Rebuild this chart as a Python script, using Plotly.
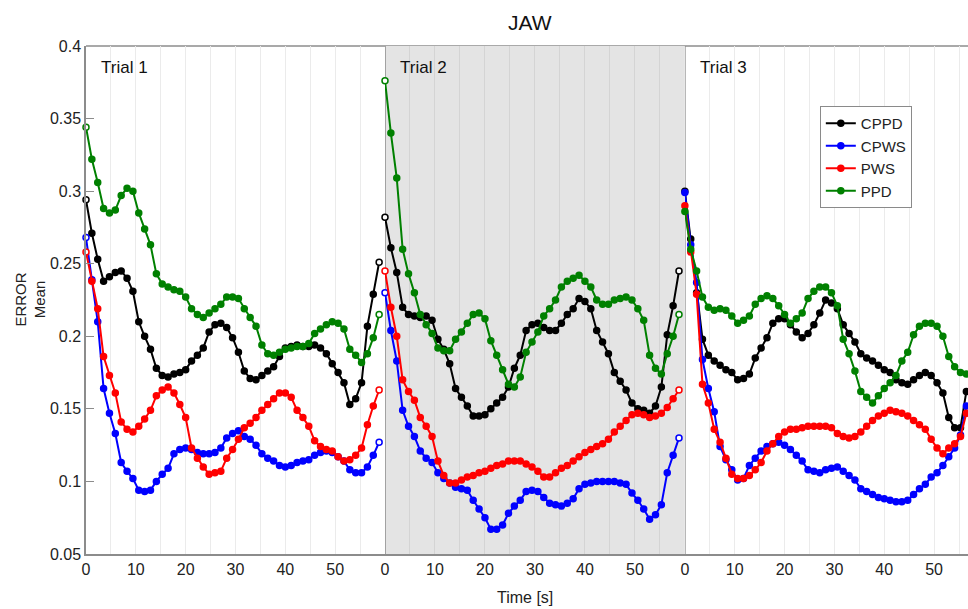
import plotly.graph_objects as go

# Sampling grid: 51 samples per trial, 60 s per trial
N_SAMPLES = 51
TRIAL_LEN = 60.0
time_s = [round(i * TRIAL_LEN / N_SAMPLES, 3) for i in range(N_SAMPLES)]

series_names = ["CPPD", "CPWS", "PWS", "PPD"]
series_colors = ["#000000", "#0000ff", "#ff0000", "#008000"]
trial_labels = ["Trial 1", "Trial 2", "Trial 3"]
x_ticks = [0, 10, 20, 30, 40, 50]
y_ticks = [0.05, 0.1, 0.15, 0.2, 0.25, 0.3, 0.35, 0.4]
y_ticktext = ["0.05", "0.1", "0.15", "0.2", "0.25", "0.3", "0.35", "0.4"]

# Trial 1
t1_cppd = [0.294, 0.271, 0.253, 0.238, 0.241, 0.244, 0.245, 0.240, 0.231, 0.210, 0.200, 0.191, 0.178,
           0.173, 0.172, 0.174, 0.175, 0.177, 0.183, 0.187, 0.192, 0.203, 0.208, 0.209, 0.206, 0.199,
           0.189, 0.176, 0.171, 0.170, 0.173, 0.176, 0.179, 0.186, 0.192, 0.193, 0.194, 0.193, 0.193,
           0.194, 0.192, 0.188, 0.181, 0.175, 0.168, 0.153, 0.157, 0.168, 0.207, 0.229, 0.251]
t1_cpws = [0.268, 0.239, 0.210, 0.164, 0.147, 0.133, 0.113, 0.107, 0.102, 0.094, 0.093, 0.094, 0.100,
           0.105, 0.109, 0.119, 0.122, 0.123, 0.122, 0.120, 0.119, 0.119, 0.120, 0.123, 0.130, 0.133,
           0.135, 0.131, 0.129, 0.125, 0.119, 0.116, 0.114, 0.111, 0.110, 0.111, 0.113, 0.114, 0.115,
           0.118, 0.120, 0.121, 0.120, 0.117, 0.114, 0.108, 0.106, 0.106, 0.110, 0.118, 0.127]
t1_pws = [0.258, 0.238, 0.219, 0.186, 0.173, 0.161, 0.141, 0.136, 0.134, 0.138, 0.143, 0.149, 0.159,
          0.163, 0.165, 0.161, 0.153, 0.144, 0.123, 0.116, 0.110, 0.105, 0.106, 0.107, 0.116, 0.122,
          0.129, 0.137, 0.140, 0.144, 0.149, 0.153, 0.157, 0.161, 0.161, 0.158, 0.149, 0.144, 0.138,
          0.128, 0.124, 0.122, 0.121, 0.117, 0.114, 0.115, 0.118, 0.123, 0.139, 0.152, 0.163]
t1_ppd = [0.344, 0.322, 0.306, 0.288, 0.285, 0.287, 0.297, 0.302, 0.300, 0.285, 0.274, 0.263, 0.243,
          0.236, 0.234, 0.232, 0.231, 0.227, 0.219, 0.215, 0.213, 0.216, 0.219, 0.222, 0.227, 0.227,
          0.226, 0.219, 0.213, 0.207, 0.194, 0.188, 0.187, 0.189, 0.191, 0.192, 0.193, 0.193, 0.195,
          0.202, 0.205, 0.208, 0.210, 0.209, 0.205, 0.191, 0.187, 0.182, 0.188, 0.199, 0.215]

# Trial 2
t2_cppd = [0.282, 0.261, 0.244, 0.220, 0.215, 0.214, 0.213, 0.214, 0.211, 0.198, 0.191, 0.181, 0.164,
           0.158, 0.152, 0.145, 0.145, 0.146, 0.150, 0.154, 0.158, 0.165, 0.178, 0.187, 0.204, 0.208,
           0.209, 0.206, 0.204, 0.204, 0.209, 0.215, 0.219, 0.226, 0.224, 0.219, 0.204, 0.196, 0.188,
           0.175, 0.169, 0.163, 0.154, 0.150, 0.149, 0.147, 0.152, 0.165, 0.201, 0.221, 0.245]
t2_cpws = [0.230, 0.204, 0.183, 0.149, 0.138, 0.131, 0.121, 0.116, 0.113, 0.106, 0.102, 0.099, 0.096,
           0.095, 0.094, 0.087, 0.081, 0.075, 0.067, 0.067, 0.070, 0.078, 0.083, 0.087, 0.093, 0.094,
           0.093, 0.089, 0.085, 0.084, 0.083, 0.085, 0.088, 0.095, 0.098, 0.099, 0.100, 0.100, 0.100,
           0.100, 0.099, 0.098, 0.092, 0.087, 0.081, 0.074, 0.077, 0.084, 0.106, 0.118, 0.130]
t2_pws = [0.245, 0.220, 0.200, 0.170, 0.162, 0.156, 0.144, 0.138, 0.131, 0.114, 0.104, 0.099, 0.099,
          0.101, 0.103, 0.104, 0.106, 0.107, 0.109, 0.111, 0.112, 0.114, 0.114, 0.114, 0.112, 0.110,
          0.107, 0.103, 0.103, 0.106, 0.109, 0.111, 0.114, 0.117, 0.120, 0.122, 0.124, 0.126, 0.129,
          0.134, 0.138, 0.142, 0.146, 0.147, 0.146, 0.144, 0.145, 0.147, 0.151, 0.157, 0.163]
t2_ppd = [0.376, 0.340, 0.309, 0.260, 0.243, 0.230, 0.215, 0.208, 0.202, 0.192, 0.190, 0.190, 0.198,
          0.203, 0.209, 0.215, 0.216, 0.212, 0.197, 0.187, 0.177, 0.167, 0.165, 0.172, 0.189, 0.196,
          0.203, 0.214, 0.219, 0.225, 0.234, 0.238, 0.240, 0.242, 0.238, 0.234, 0.225, 0.222, 0.222,
          0.225, 0.226, 0.227, 0.225, 0.219, 0.211, 0.187, 0.178, 0.174, 0.188, 0.200, 0.215]

# Trial 3
t3_cppd = [0.300, 0.267, 0.230, 0.198, 0.187, 0.183, 0.180, 0.177, 0.175, 0.170, 0.171, 0.174, 0.185,
           0.192, 0.199, 0.209, 0.212, 0.212, 0.208, 0.203, 0.199, 0.202, 0.208, 0.216, 0.225, 0.223,
           0.219, 0.208, 0.202, 0.196, 0.188, 0.185, 0.183, 0.180, 0.177, 0.175, 0.170, 0.168, 0.167,
           0.170, 0.173, 0.175, 0.173, 0.168, 0.161, 0.144, 0.137, 0.137, 0.162]
t3_cpws = [0.299, 0.263, 0.237, 0.184, 0.164, 0.148, 0.124, 0.115, 0.108, 0.101, 0.102, 0.111, 0.116,
           0.121, 0.124, 0.126, 0.127, 0.125, 0.122, 0.118, 0.114, 0.108, 0.107, 0.106, 0.108, 0.109,
           0.110, 0.107, 0.104, 0.101, 0.095, 0.093, 0.091, 0.089, 0.088, 0.087, 0.086, 0.086, 0.087,
           0.091, 0.095, 0.098, 0.103, 0.106, 0.111, 0.117, 0.123, 0.132, 0.152]
t3_pws = [0.290, 0.258, 0.229, 0.167, 0.154, 0.136, 0.127, 0.116, 0.105, 0.102, 0.102, 0.104, 0.108,
          0.113, 0.121, 0.126, 0.131, 0.134, 0.136, 0.136, 0.137, 0.138, 0.138, 0.138, 0.138, 0.137,
          0.133, 0.131, 0.130, 0.131, 0.134, 0.138, 0.142, 0.145, 0.147, 0.149, 0.148, 0.147, 0.145,
          0.142, 0.139, 0.136, 0.129, 0.123, 0.119, 0.123, 0.126, 0.131, 0.147]
t3_ppd = [0.286, 0.260, 0.245, 0.227, 0.220, 0.218, 0.219, 0.218, 0.214, 0.209, 0.211, 0.214, 0.222,
          0.226, 0.228, 0.226, 0.221, 0.215, 0.209, 0.212, 0.216, 0.226, 0.231, 0.234, 0.234, 0.230,
          0.221, 0.198, 0.188, 0.176, 0.162, 0.158, 0.154, 0.159, 0.164, 0.168, 0.173, 0.183, 0.189,
          0.201, 0.207, 0.209, 0.209, 0.207, 0.200, 0.186, 0.179, 0.175, 0.174]

trials = [
    [t1_cppd, t1_cpws, t1_pws, t1_ppd],
    [t2_cppd, t2_cpws, t2_pws, t2_ppd],
    [t3_cppd, t3_cpws, t3_pws, t3_ppd],
]

FONT = "Liberation Sans, Arial, sans-serif"
TEXT = "#222222"
AXIS = "#8c8c8c"

# Each trial gets its own x axis; all share the single y axis
x_domains = [[0.0, 0.339], [0.339, 0.679], [0.679, 1.0]]
x_ranges = [[0, 60], [0, 60], [0, 56.8]]
grid_colors = ["#ebebeb", "#d4d4d4", "#ebebeb"]

fig = go.Figure()
for p, trial in enumerate(trials):
    xname = "x" if p == 0 else f"x{p + 1}"
    for name, color, vals in zip(series_names, series_colors, trial):
        n = len(vals)
        fills = [color] * n
        if p < 2:
            # open circles mark the trial boundaries
            fills[0] = "white"
            fills[-1] = "white"
        fig.add_trace(go.Scatter(
            x=time_s[:n], y=vals, xaxis=xname, yaxis="y",
            mode="lines+markers", name=name, legendgroup=name,
            showlegend=(p == 2), cliponaxis=False,
            line=dict(color=color, width=2),
            marker=dict(size=6, color=fills, line=dict(color=color, width=1.5)),
        ))

layout_axes = {}
for p in range(3):
    key = "xaxis" if p == 0 else f"xaxis{p + 1}"
    layout_axes[key] = dict(
        domain=x_domains[p], range=x_ranges[p], anchor="y",
        tickvals=x_ticks, ticks="", showgrid=True, gridcolor=grid_colors[p], gridwidth=1,
        minor=dict(tick0=0, dtick=5, showgrid=True, gridcolor=grid_colors[p], gridwidth=1),
        showline=True, linecolor=AXIS, linewidth=1.5, zeroline=False,
        tickfont=dict(size=16, color=TEXT, family=FONT),
    )

fig.update_layout(
    width=968, height=609,
    margin=dict(l=86, r=0, t=46, b=55),
    plot_bgcolor="white", paper_bgcolor="white",
    font=dict(family=FONT, size=15, color=TEXT),
    yaxis=dict(
        range=[0.05, 0.4], tickvals=y_ticks, ticktext=y_ticktext,
        ticks="inside", ticklen=8, tickcolor=AXIS, tickwidth=1,
        showline=True, linecolor=AXIS, linewidth=1.5,
        showgrid=False, zeroline=False,
        tickfont=dict(size=16, color=TEXT, family=FONT),
    ),
    legend=dict(
        x=0.832, y=0.882, xanchor="left", yanchor="top",
        bgcolor="white", bordercolor="#8a8a8a", borderwidth=1,
        font=dict(size=15, color=TEXT, family=FONT),
        itemwidth=30, tracegroupgap=0,
    ),
    **layout_axes,
)

shapes = [
    # shaded background of the middle trial
    dict(type="rect", xref="x2", yref="y", x0=0, x1=60, y0=0.05, y1=0.4,
         fillcolor="#e4e4e4", line=dict(width=0), layer="below"),
    # trial separators
    dict(type="line", xref="x2", yref="y", x0=0, x1=0, y0=0.05, y1=0.4,
         line=dict(color=AXIS, width=1.5), layer="between"),
    dict(type="line", xref="x3", yref="y", x0=0, x1=0, y0=0.05, y1=0.4,
         line=dict(color=AXIS, width=1.5), layer="between"),
    # top frame
    dict(type="line", xref="paper", yref="paper", x0=0, x1=1, y0=1, y1=1,
         line=dict(color=AXIS, width=1.5), layer="between"),
]
fig.update_layout(shapes=shapes)

annotations = [
    dict(text="JAW", xref="paper", yref="paper", x=0.503, y=1.047,
         xanchor="center", yanchor="middle", showarrow=False,
         font=dict(size=21, color="#111", family=FONT)),
    dict(text="Time [s]", xref="paper", yref="paper", x=0.498, y=-0.085,
         xanchor="center", yanchor="middle", showarrow=False,
         font=dict(size=16, color=TEXT, family=FONT)),
    dict(text="ERROR<br>Mean", xref="paper", yref="paper", x=-0.064, y=0.5,
         xanchor="center", yanchor="middle", showarrow=False, textangle=-90,
         font=dict(size=15, color=TEXT, family=FONT)),
]
for p, label in enumerate(trial_labels):
    xname = "x" if p == 0 else f"x{p + 1}"
    annotations.append(dict(
        text=label, xref=f"{xname} domain", yref="y domain", x=0, y=1,
        xshift=13, yshift=-21, xanchor="left", yanchor="middle", showarrow=False,
        font=dict(size=17, color="#111", family=FONT),
    ))
fig.update_layout(annotations=annotations)

fig.write_html("out.html")
